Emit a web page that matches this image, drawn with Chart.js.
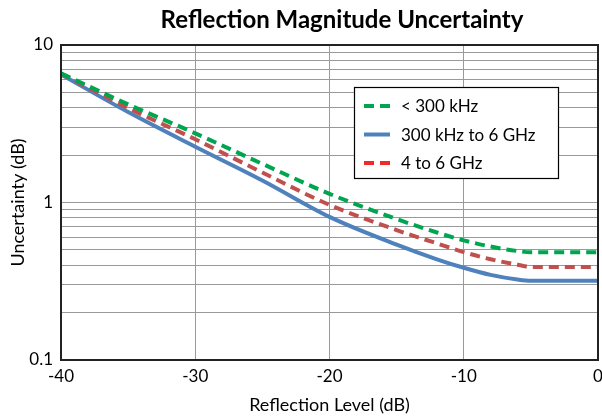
<!DOCTYPE html>
<html>
<head>
<meta charset="utf-8">
<script src="https://cdn.jsdelivr.net/npm/chart.js@4"></script>
<style>
  html, body { margin: 0; padding: 0; background: #fff; }
  #wrap { width: 602px; height: 418px; }
</style>
</head>
<body>
<div id="wrap"><canvas id="uncertaintyChart" width="602" height="418"></canvas></div>
<script>
// reflection level (dB) on the x axis
var levels = [-40, -35, -30, -25, -20, -15, -12, -10, -8, -6, -5, 0];

// uncertainty (dB) per band
var below300k = [6.6, 4.2, 2.75, 1.76, 1.135, 0.785, 0.645, 0.575, 0.525, 0.492, 0.483, 0.483];
var k300to6G  = [6.5, 3.75, 2.26, 1.38, 0.81, 0.54, 0.436, 0.385, 0.347, 0.324, 0.318, 0.318];
var g4to6     = [6.58, 3.98, 2.52, 1.55, 0.966, 0.668, 0.55, 0.484, 0.436, 0.403, 0.39, 0.39];

var seriesNames = ['< 300 kHz', '300 kHz to 6 GHz', '4 to 6 GHz'];
var xTicks = [-40, -30, -20, -10, 0];
var yTickLabels = [0.1, 1, 10];

var FONT = 'Lato';

function toPoints(vals) {
    return levels.map(function (lvl, i) { return { x: lvl, y: vals[i] }; });
}

function logGridValues() {
    var out = [];
    [0.1, 1].forEach(function (dec) {
        for (var m = 1; m < 10; m++) out.push(+(m * dec).toFixed(2));
    });
    out.push(10);
    return out;
}

// title, plot border and the boxed legend are drawn on top
var decorPlugin = {
    id: 'decor',
    afterDraw: function (chart) {
        var ctx = chart.ctx;
        var a = chart.chartArea;
        ctx.save();

        // plot border
        ctx.strokeStyle = '#222';
        ctx.lineWidth = 2;
        ctx.strokeRect(a.left, a.top, a.right - a.left, a.bottom - a.top);

        // title
        ctx.fillStyle = '#000';
        ctx.font = 'bold 24px ' + FONT;
        ctx.textAlign = 'center';
        ctx.textBaseline = 'middle';
        ctx.fillText('Reflection Magnitude Uncertainty', 342, 20);

        // legend
        ctx.fillStyle = '#fff';
        ctx.fillRect(354, 87, 204, 91);
        ctx.strokeStyle = '#000';
        ctx.lineWidth = 1.2;
        ctx.strokeRect(354.5, 87.5, 204, 91);

        var swatchColors = ['#00a550', '#4f81bd', '#ee2a2a'];
        var rowY = [106, 134.5, 163];
        chart.data.datasets.forEach(function (ds, i) {
            ctx.beginPath();
            ctx.strokeStyle = swatchColors[i];
            ctx.lineWidth = 4;
            ctx.setLineDash(ds.borderDash || []);
            ctx.moveTo(364, rowY[i]);
            ctx.lineTo(390, rowY[i]);
            ctx.stroke();
            ctx.setLineDash([]);
            ctx.fillStyle = '#000';
            ctx.font = '17px ' + FONT;
            ctx.textAlign = 'left';
            ctx.textBaseline = 'middle';
            ctx.fillText(ds.label, 401, rowY[i] + 1);
        });
        ctx.restore();
    }
};

var ctx = document.getElementById('uncertaintyChart').getContext('2d');
var uncertaintyChart = new Chart(ctx, {
    type: 'line',
    data: {
        datasets: [{
            label: seriesNames[0],
            data: toPoints(below300k),
            borderColor: '#00a550',
            borderWidth: 4,
            borderDash: [10, 6],
            order: 0
        }, {
            label: seriesNames[1],
            data: toPoints(k300to6G),
            borderColor: '#4f81bd',
            borderWidth: 4,
            order: 2
        }, {
            label: seriesNames[2],
            data: toPoints(g4to6),
            borderColor: '#c0504d',
            borderWidth: 4,
            borderDash: [10, 6],
            order: 1
        }]
    },
    options: {
        responsive: false,
        animation: false,
        layout: { padding: { top: 45, right: 4, left: 0, bottom: 0 } },
        elements: {
            point: { radius: 0 },
            line: { cubicInterpolationMode: 'monotone', fill: false }
        },
        plugins: {
            legend: { display: false },
            title: { display: false },
            tooltip: { enabled: false }
        },
        scales: {
            x: {
                type: 'linear',
                min: -40,
                max: 0,
                afterBuildTicks: function (scale) {
                    scale.ticks = xTicks.map(function (v) { return { value: v }; });
                },
                afterFit: function (scale) {
                    scale.height = 58;
                    scale.paddingLeft = 0;
                    scale.paddingRight = 0;
                },
                ticks: {
                    color: '#000',
                    padding: 6,
                    maxRotation: 0,
                    font: { family: FONT, size: 17 }
                },
                grid: { color: '#9a9a9a', lineWidth: 1, drawTicks: false },
                border: { display: false },
                title: {
                    display: true,
                    text: 'Reflection Level (dB)',
                    color: '#000',
                    font: { family: FONT, size: 18 },
                    padding: { top: 0, bottom: 2 }
                }
            },
            y: {
                type: 'logarithmic',
                min: 0.1,
                max: 10,
                afterBuildTicks: function (scale) {
                    scale.ticks = logGridValues().map(function (v) { return { value: v }; });
                },
                afterFit: function (scale) {
                    scale.width = 61;
                    scale.paddingTop = 0;
                    scale.paddingBottom = 0;
                },
                ticks: {
                    color: '#000',
                    padding: 8,
                    autoSkip: false,
                    font: { family: FONT, size: 17 },
                    callback: function (value) {
                        return yTickLabels.indexOf(+value.toFixed(2)) >= 0 ? String(value) : '';
                    }
                },
                grid: { color: '#9a9a9a', lineWidth: 1, drawTicks: false },
                border: { display: false },
                title: {
                    display: true,
                    text: 'Uncertainty (dB)',
                    color: '#000',
                    font: { family: FONT, size: 18 },
                    padding: { top: 7, bottom: 0 }
                }
            }
        }
    },
    plugins: [decorPlugin]
});
</script>
</body>
</html>
